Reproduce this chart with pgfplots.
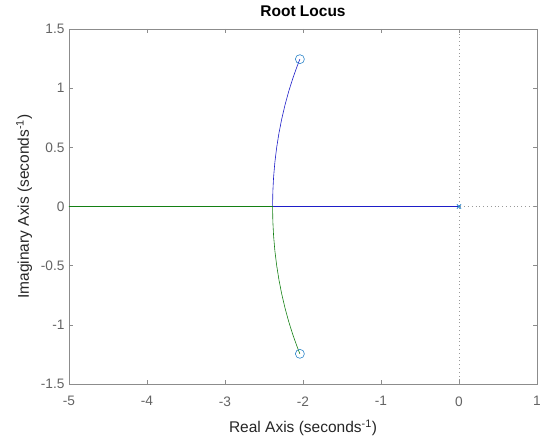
\documentclass[border=0pt]{standalone}
\usepackage{pgfplots}
\pgfplotsset{compat=1.18}
\usepackage{fontspec}
\setmainfont{Liberation Sans}
\definecolor{axgray}{RGB}{140,140,140}
\definecolor{tickgray}{RGB}{100,100,100}
\definecolor{labgray}{RGB}{38,38,38}
\definecolor{mblue}{RGB}{40,130,200}
\definecolor{lblue}{RGB}{30,30,200}
\definecolor{lgreen}{RGB}{20,128,20}
\begin{document}
\begin{tikzpicture}
\begin{axis}[
  at={(0,0)}, anchor=south west,
  scale only axis, width=468pt, height=355pt,
  xmin=-5, xmax=1, ymin=-1.5, ymax=1.5,
  xtick={-5,-4,-3,-2,-1,0,1},
  ytick={-1.5,-1,-0.5,0,0.5,1,1.5},
  yticklabels={-1.5,-1,-0.5,0,0.5,1,1.5},
  xticklabels={-5,-4,-3,-2,-1,0,1},
  tick align=inside, tick pos=both,
  major tick length=4pt,
  axis line style={axgray, line width=0.6pt},
  tick style={axgray, line width=0.6pt},
  ticklabel style={font=\fontsize{13.7}{15}\selectfont, text=tickgray},
  xticklabel style={yshift=-9pt},
  yticklabel style={xshift=-1pt},
  title={\textbf{Root Locus}},
  title style={font=\fontsize{15.5}{17}\selectfont, text=black, yshift=2.5pt},
  xlabel={Real Axis (seconds\textsuperscript{-1})},
  ylabel={Imaginary Axis (seconds\textsuperscript{-1})},
  label style={font=\fontsize{15.5}{18}\selectfont, text=labgray},
  xlabel style={yshift=-7pt},
  ylabel style={yshift=2pt},
]
% dotted axes lines
\addplot[gray!80, dash pattern=on 0.8pt off 3pt, line width=0.6pt] coordinates {(0,-1.5) (0,1.5)};
\addplot[gray!80, dash pattern=on 0.8pt off 3pt, line width=0.6pt] coordinates {(-5,0) (1,0)};
% branch 1 (blue): from pole at 0 to breakaway, then up to zero
\addplot[lblue, line width=0.6pt] coordinates {
(0,0) (-1,0) (-2,0) (-2.39,0)
(-2.3867,0.1251) (-2.3769,0.2498) (-2.3606,0.3739) (-2.3378,0.4969)
(-2.3086,0.6186) (-2.2730,0.7386) (-2.2313,0.8565) (-2.1834,0.9721)
(-2.1295,1.0850) (-2.0698,1.1950) (-2.04,1.245)};
% branch 2 (green): from -inf to breakaway, then down to zero
\addplot[lgreen, line width=0.6pt] coordinates {
(-5,0) (-4,0) (-3,0) (-2.39,0)
(-2.3867,-0.1251) (-2.3769,-0.2498) (-2.3606,-0.3739) (-2.3378,-0.4969)
(-2.3086,-0.6186) (-2.2730,-0.7386) (-2.2313,-0.8565) (-2.1834,-0.9721)
(-2.1295,-1.0850) (-2.0698,-1.1950) (-2.04,-1.245)};
% zeros
\addplot[only marks, mark=o, mark size=4.5pt, mblue, mark options={line width=0.6pt}] coordinates {(-2.04,1.245) (-2.04,-1.245)};
% pole
\addplot[only marks, mark=x, mark size=3pt, mblue, mark options={line width=0.8pt}] coordinates {(0,0)};
\end{axis}
\pgfresetboundingbox
\path[use as bounding box] (-69pt,-54pt) rectangle (473pt,384pt);
\end{tikzpicture}
\end{document}
